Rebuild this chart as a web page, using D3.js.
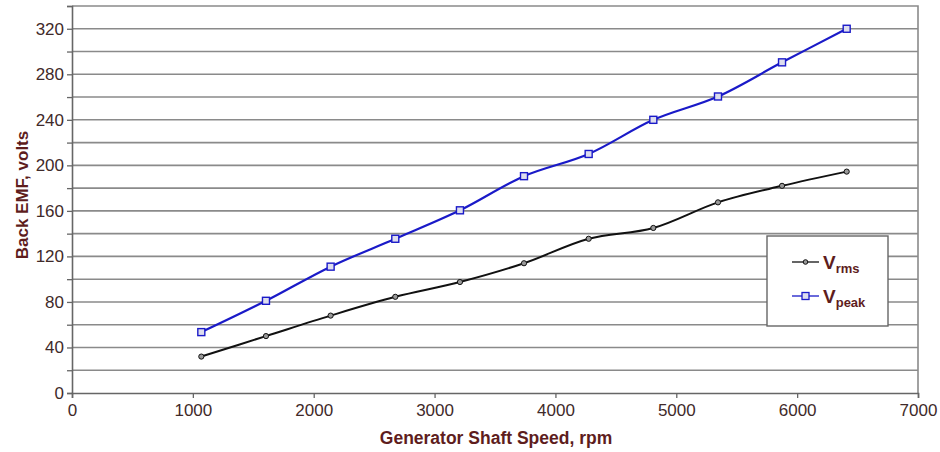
<!DOCTYPE html>
<html><head><meta charset="utf-8">
<script src="https://cdn.jsdelivr.net/npm/d3@7"></script>
<style>body{margin:0;background:#fff;}svg{display:block;font-family:"Liberation Sans",Arial,sans-serif;}</style>
</head><body>
<svg id="c" width="940" height="452"></svg>
<script>
const speeds = [1070, 1605, 2140, 2675, 3210, 3740, 4275, 4810, 5345, 5875, 6410];
const vrms = [32, 50, 68, 84.5, 97.5, 114, 135.5, 145, 167.5, 182, 194.5];
const vpeak = [53.5, 81, 111, 135.5, 160.5, 190.5, 210, 240, 260.5, 290.5, 320];
const xTicks = [0, 1000, 2000, 3000, 4000, 5000, 6000, 7000];
const yTicks = [0, 40, 80, 120, 160, 200, 240, 280, 320];
const yGrid = [20, 40, 60, 80, 100, 120, 140, 160, 180, 200, 220, 240, 260, 280, 300, 320];

const svg = d3.select("#c");
const L = 72, R = 918, T = 6, B = 393;
const x = d3.scaleLinear().domain([0, 7000]).range([L, R]);
const y = d3.scaleLinear().domain([0, 340]).range([B, T]);
const tickCol = "#3f2a2a", titleCol = "#5e1d1d", gridCol = "#8a8a8a";

// gridlines
svg.append("g").selectAll("line").data(yGrid).join("line")
  .attr("x1", L).attr("x2", R).attr("y1", d => y(d)).attr("y2", d => y(d))
  .attr("stroke", gridCol).attr("stroke-width", 1.6);
// plot border top/right
svg.append("path").attr("d", `M${L},${T}H${R}V${B}`).attr("fill", "none")
  .attr("stroke", gridCol).attr("stroke-width", 1.6);

// axes
const yAxis = svg.append("g").attr("transform", `translate(${L},0)`)
  .call(d3.axisLeft(y).tickValues(d3.range(0, 341, 20)).tickSize(5).tickFormat(d => yTicks.includes(d) ? d : ""));
yAxis.select(".domain").attr("stroke", "#666").attr("stroke-width", 1.6);
yAxis.selectAll(".tick line").attr("stroke", "#666").attr("stroke-width", 1.3);
yAxis.selectAll("text").attr("fill", tickCol).attr("font-size", 17).attr("x", -8);

const xAxis = svg.append("g").attr("transform", `translate(0,${B})`)
  .call(d3.axisBottom(x).tickValues(xTicks).tickSize(5).tickFormat(d3.format("d")));
xAxis.select(".domain").attr("stroke", "#666").attr("stroke-width", 1.6);
xAxis.selectAll(".tick line").attr("stroke", "#666").attr("stroke-width", 1.3);
xAxis.selectAll("text").attr("fill", tickCol).attr("font-size", 17).attr("y", 11);

// titles
svg.append("text").attr("x", 496).attr("y", 444).attr("text-anchor", "middle")
  .attr("font-weight", "bold").attr("font-size", 17.5).attr("fill", titleCol)
  .text("Generator Shaft Speed, rpm");
svg.append("text").attr("transform", "translate(28,195) rotate(-90)").attr("text-anchor", "middle")
  .attr("font-weight", "bold").attr("font-size", 17).attr("fill", titleCol)
  .text("Back EMF, volts");

// lines
const line = d3.line().x(d => x(d[0])).y(d => y(d[1])).curve(d3.curveCatmullRom.alpha(0.5));
const rmsData = speeds.map((s, i) => [s, vrms[i]]);
const peakData = speeds.map((s, i) => [s, vpeak[i]]);
svg.append("path").datum(rmsData).attr("d", line).attr("fill", "none").attr("stroke", "#111").attr("stroke-width", 2);
svg.append("path").datum(peakData).attr("d", line).attr("fill", "none").attr("stroke", "#1a1ac8").attr("stroke-width", 2.2);
svg.append("g").selectAll("circle").data(rmsData).join("circle")
  .attr("cx", d => x(d[0])).attr("cy", d => y(d[1])).attr("r", 2.6)
  .attr("fill", "#999").attr("stroke", "#111").attr("stroke-width", 1);
svg.append("g").selectAll("rect").data(peakData).join("rect")
  .attr("x", d => x(d[0]) - 3.5).attr("y", d => y(d[1]) - 3.5).attr("width", 7).attr("height", 7)
  .attr("fill", "#dde").attr("stroke", "#1a1ac8").attr("stroke-width", 1.4);

// legend
const lg = svg.append("g");
lg.append("rect").attr("x", 767).attr("y", 236).attr("width", 121).attr("height", 90)
  .attr("fill", "#fff").attr("stroke", "#666").attr("stroke-width", 1.4);
const items = [{name: "rms", col: "#111", ly: 262, mk: "c"}, {name: "peak", col: "#1a1ac8", ly: 296, mk: "s"}];
items.forEach(it => {
  lg.append("line").attr("x1", 792).attr("x2", 819).attr("y1", it.ly).attr("y2", it.ly)
    .attr("stroke", it.col).attr("stroke-width", 1.3);
  if (it.mk === "c") lg.append("circle").attr("cx", 805.5).attr("cy", it.ly).attr("r", 2.3).attr("fill", "#999").attr("stroke", it.col);
  else lg.append("rect").attr("x", 802).attr("y", it.ly - 3.5).attr("width", 7).attr("height", 7).attr("fill", "#dde").attr("stroke", it.col).attr("stroke-width", 1.3);
  const t = lg.append("text").attr("x", 823).attr("y", it.ly + 7).attr("fill", titleCol).attr("font-weight", "bold").attr("font-size", 19);
  t.append("tspan").text("V");
  t.append("tspan").attr("font-size", 13).attr("dy", 4).text(it.name);
});
</script>
</body></html>
